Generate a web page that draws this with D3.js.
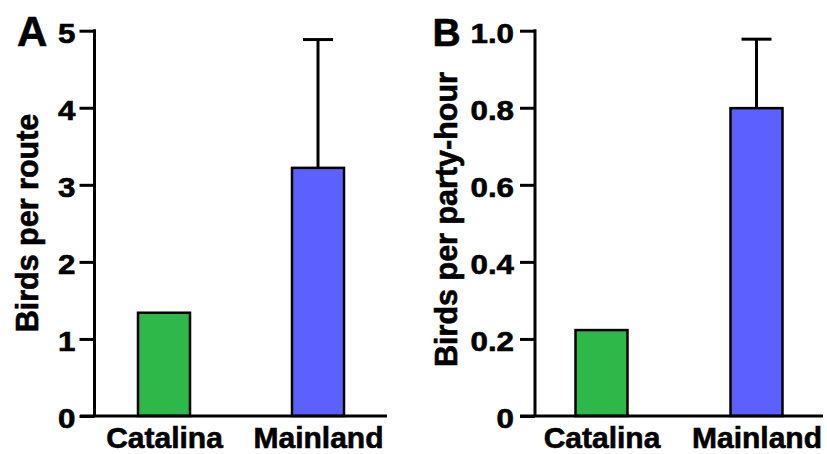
<!DOCTYPE html>
<html>
<head>
<meta charset="utf-8">
<script src="https://cdn.jsdelivr.net/npm/d3@7"></script>
<style>
  html, body { margin: 0; padding: 0; background: #fff; }
  svg { display: block; }
  text { font-family: "Liberation Sans", Arial, Helvetica, sans-serif; font-weight: bold; fill: #000; stroke: #000; stroke-width: 0.6px; }
</style>
</head>
<body>
<script>
// ---- data ----
const categories = ["Catalina", "Mainland"];
const routeValues = [1.34, 3.22];
const routeErrors = [null, 1.665];
const routeTicks = [0, 1, 2, 3, 4, 5];
const partyHourValues = [0.223, 0.799];
const partyHourErrors = [null, 0.179];
const partyHourTicks = [0, 0.2, 0.4, 0.6, 0.8, 1.0];
const barColors = ["#2eb84a", "#5c60ff"];

const W = 827, H = 454;
const svg = d3.select("body").append("svg").attr("width", W).attr("height", H);

const panels = [
  { letter: "A", letterX: 17, letterY: 45.5, letterSize: 42,
    title: "Birds per route", titleX: 38, titleY: 223,
    values: routeValues, errors: routeErrors, ticks: routeTicks, domain: [0, 5],
    fmt: d => d3.format("d")(d),
    axisX: 94.5, xStart: 80, xEnd: 387, pointRange: [87, 395], tickPad: 4 },
  { letter: "B", letterX: 432.5, letterY: 46, letterSize: 39,
    title: "Birds per party-hour", titleX: 457, titleY: 219.5,
    values: partyHourValues, errors: partyHourErrors, ticks: partyHourTicks, domain: [0, 1],
    fmt: d => d === 0 ? "0" : d3.format(".1f")(d),
    axisX: 535, xStart: 520, xEnd: 823, pointRange: [524, 834], tickPad: 6 }
];

const yTop = 30.7, yBottom = 416;
const barW = 52, capW = 30;
const tickStretch = 1.16;

panels.forEach(p => {
  const g = svg.append("g");
  const y = d3.scaleLinear().domain(p.domain).range([yBottom, yTop]);
  const x = d3.scalePoint().domain(categories).range(p.pointRange).padding(0.5);

  // bars
  g.selectAll("rect.bar").data(categories).join("rect")
    .attr("class", "bar")
    .attr("x", d => x(d) - barW / 2)
    .attr("width", barW)
    .attr("y", (d, i) => y(p.values[i]))
    .attr("height", (d, i) => y(0) - y(p.values[i]))
    .attr("fill", (d, i) => barColors[i])
    .attr("stroke", "#000")
    .attr("stroke-width", 2.5);

  // error bars (upper only)
  const errData = categories.map((c, i) => ({ c, v: p.values[i], e: p.errors[i] })).filter(d => d.e != null);
  g.selectAll("line.err").data(errData).join("line")
    .attr("class", "err")
    .attr("x1", d => x(d.c)).attr("x2", d => x(d.c))
    .attr("y1", d => y(d.v)).attr("y2", d => y(d.v + d.e))
    .attr("stroke", "#000").attr("stroke-width", 3);
  g.selectAll("line.cap").data(errData).join("line")
    .attr("class", "cap")
    .attr("x1", d => x(d.c) - capW / 2).attr("x2", d => x(d.c) + capW / 2)
    .attr("y1", d => y(d.v + d.e)).attr("y2", d => y(d.v + d.e))
    .attr("stroke", "#000").attr("stroke-width", 3);

  // y axis
  const ya = g.append("g")
    .attr("transform", `translate(${p.axisX},0)`)
    .call(d3.axisLeft(y).tickValues(p.ticks).tickFormat(p.fmt).tickSize(15).tickSizeOuter(0).tickPadding(p.tickPad));
  ya.select(".domain").attr("stroke", "#000").attr("stroke-width", 3)
    .attr("d", `M0,${yBottom}V${yTop - 1.5}`);
  ya.selectAll(".tick line").attr("stroke", "#000").attr("stroke-width", 3);
  ya.selectAll(".tick text")
    .attr("font-size", 27)
    .attr("fill", "#000")
    .attr("x", -(15 + p.tickPad) / tickStretch)
    .attr("dy", "0.42em")
    .attr("transform", `scale(${tickStretch},1)`);

  // x axis baseline
  g.append("line")
    .attr("x1", p.xStart).attr("x2", p.xEnd)
    .attr("y1", y(0)).attr("y2", y(0))
    .attr("stroke", "#000").attr("stroke-width", 3);

  // category labels
  const xa = g.append("g")
    .attr("transform", `translate(0,${y(0)})`)
    .call(d3.axisBottom(x).tickSize(0));
  xa.select(".domain").remove();
  xa.selectAll(".tick text")
    .attr("font-size", 30)
    .attr("fill", "#000")
    .attr("y", 31.5).attr("dy", 0);

  // y title
  g.append("text")
    .attr("transform", `translate(${p.titleX},${p.titleY}) rotate(-90)`)
    .attr("text-anchor", "middle")
    .attr("font-size", 30.5)
    .text(p.title);

  // panel letter
  g.append("text")
    .attr("x", p.letterX).attr("y", p.letterY)
    .attr("font-size", p.letterSize)
    .text(p.letter);
});
</script>
</body>
</html>
